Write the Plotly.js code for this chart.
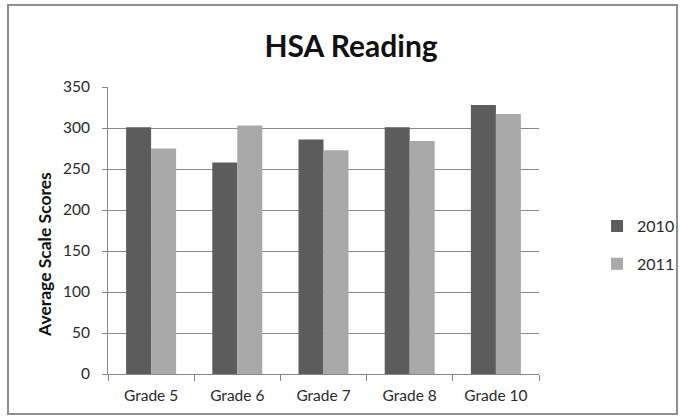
<!DOCTYPE html>
<html>
<head>
<meta charset="utf-8">
<script src="https://cdn.plot.ly/plotly-3.0.1.min.js"></script>
<style>
html,body{margin:0;padding:0;background:#fff;}
#wrap{position:relative;width:680px;height:419px;}
#chart{position:absolute;left:0;top:0;width:680px;height:419px;}
#frame{position:absolute;left:7px;top:4px;width:667px;height:407px;border:2px solid #8f8f8f;pointer-events:none;}
</style>
</head>
<body>
<div id="wrap"><div id="chart"></div><div id="frame"></div></div>
<script>
const categories = ["Grade 5", "Grade 6", "Grade 7", "Grade 8", "Grade 10"];
const seriesNames = ["2010", "2011"];
const scores2010 = [301, 258, 286, 301, 328];
const scores2011 = [275, 303, 273, 284, 317];
const yTicks = [0, 50, 100, 150, 200, 250, 300, 350];
const yAxisTitle = "Average Scale Scores";

const font = "Lato, 'Open Sans', 'Liberation Sans', sans-serif";

const data = [
  {type: "bar", name: seriesNames[0], x: categories, y: scores2010,
   marker: {color: "#5c5c5c", line: {width: 0}}, legendgroup: "a"},
  {type: "bar", name: seriesNames[1], x: categories, y: scores2011,
   marker: {color: "#a9a9a9", line: {width: 0}}, legendgroup: "b"}
];

const layout = {
  width: 680, height: 419,
  margin: {l: 108, r: 141, t: 87, b: 45, autoexpand: false},
  paper_bgcolor: "#ffffff", plot_bgcolor: "#ffffff",
  barmode: "group", bargap: 0.42, bargroupgap: 0,
  font: {family: font, color: "#222222", size: 15},
  title: {text: "<b>HSA Reading</b>", font: {family: font, size: 30, color: "#111111"},
          x: 0.564, xanchor: "center", xref: "paper", y: 0.89, yanchor: "middle"},
  xaxis: {type: "category", showgrid: false, showline: true, linecolor: "#868686", linewidth: 1,
          ticks: "outside", tickson: "boundaries", ticklen: 6, tickcolor: "#868686",
          ticklabelstandoff: 7,
          tickfont: {family: font, size: 15.5, color: "#2a2a2a"}, zeroline: false},
  yaxis: {range: [0, 350], tickvals: yTicks, ticktext: yTicks.map(String),
          showgrid: true, gridcolor: "#8a8a8a", gridwidth: 1,
          showline: true, linecolor: "#868686", linewidth: 1,
          ticks: "outside", ticklen: 5, tickcolor: "#868686",
          ticklabelstandoff: 9,
          tickfont: {family: font, size: 15.5, color: "#2a2a2a"}, zeroline: false},
  annotations: [{text: "<b>" + yAxisTitle + "</b>", textangle: -90, showarrow: false,
                 xref: "paper", yref: "paper", x: -0.146, y: 0.415,
                 xanchor: "center", yanchor: "middle",
                 font: {family: font, size: 17.5, color: "#111"}}],
  showlegend: true,
  legend: {xref: "container", yref: "container", x: 0.878, xanchor: "left", y: 0.415, yanchor: "middle",
           traceorder: "grouped", tracegroupgap: 14,
           font: {family: font, size: 16, color: "#2a2a2a"}, bgcolor: "rgba(0,0,0,0)"}
};

Plotly.newPlot("chart", data, layout, {displayModeBar: false, staticPlot: true});
</script>
</body>
</html>
